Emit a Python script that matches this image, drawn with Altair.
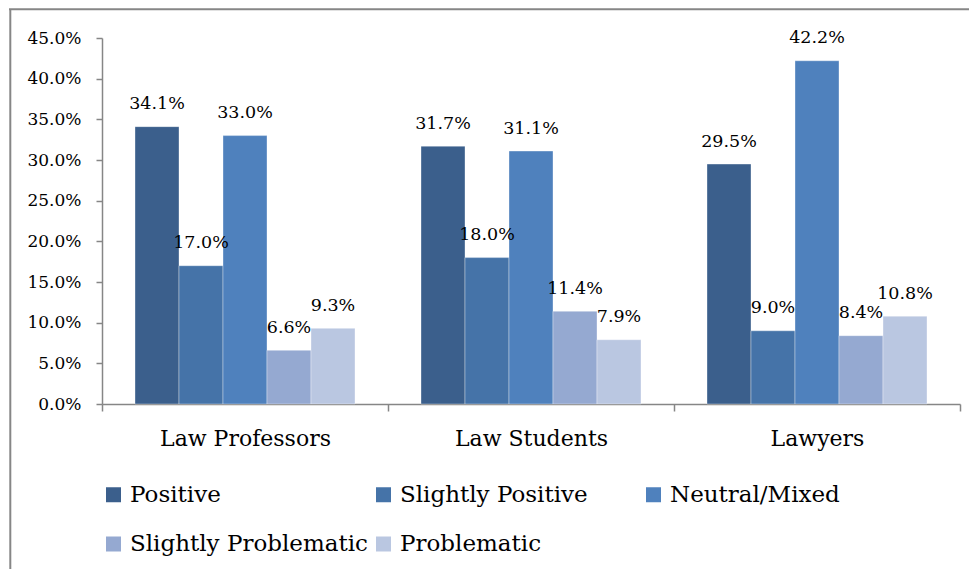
import altair as alt
import pandas as pd

# ---- data ----
groups = ["Law Professors", "Law Students", "Lawyers"]
series = ["Positive", "Slightly Positive", "Neutral/Mixed", "Slightly Problematic", "Problematic"]
colors = ["#3B5F8C", "#4573A8", "#4F81BD", "#95A9D1", "#BAC7E1"]
positive = [0.341, 0.317, 0.295]
slightly_positive = [0.170, 0.180, 0.090]
neutral_mixed = [0.330, 0.311, 0.422]
slightly_problematic = [0.066, 0.114, 0.084]
problematic = [0.093, 0.079, 0.108]
y_ticks = [0.0, 0.05, 0.10, 0.15, 0.20, 0.25, 0.30, 0.35, 0.40, 0.45]

rows = []
for s, vals in zip(series, [positive, slightly_positive, neutral_mixed,
                            slightly_problematic, problematic]):
    for g, v in zip(groups, vals):
        rows.append({"group": g, "series": s, "value": v})
df = pd.DataFrame(rows)

W, H = 858, 366
FONT = "DejaVu Serif"
GRAY = "#868686"

x = alt.X("group:N", sort=groups, title=None,
          scale=alt.Scale(paddingInner=0, paddingOuter=0),
          axis=alt.Axis(labelAngle=0, tickBand="extent", domainColor=GRAY,
                        tickColor=GRAY, tickSize=7, domainWidth=1.5, tickWidth=1.5,
                        labelFont=FONT, labelFontSize=22, labelColor="black",
                        labelPadding=17, labelLimit=400))
y = alt.Y("value:Q", title=None,
          scale=alt.Scale(domain=[0, 0.45], nice=False, zero=True),
          axis=alt.Axis(values=y_ticks, format=".1%", grid=False, domainColor=GRAY,
                        tickColor=GRAY, tickSize=6, domainWidth=1.5, tickWidth=1.5,
                        labelPadding=15, labelFont=FONT, labelFontSize=17,
                        labelColor="black"))
xo = alt.XOffset("series:N", sort=series,
                 scale=alt.Scale(paddingOuter=0.75, paddingInner=0))
color = alt.Color("series:N", sort=series,
                  scale=alt.Scale(domain=series, range=colors),
                  legend=alt.Legend(orient="none", legendX=0, legendY=445,
                                    direction="horizontal", columns=3,
                                    gridAlign="all", symbolType="square",
                                    symbolSize=225, symbolStrokeWidth=0,
                                    labelFont=FONT, labelFontSize=23,
                                    labelColor="black", labelOffset=5,
                                    labelLimit=400, columnPadding=4,
                                    rowPadding=25.5, title=None, padding=0))

bars = alt.Chart(df).mark_bar(stroke="white", strokeOpacity=0.35, strokeWidth=1).encode(
    x=x, y=y, xOffset=xo, color=color)

labels = alt.Chart(df).mark_text(font=FONT, fontSize=17.5, dy=-17.5,
                                 baseline="alphabetic", color="black").encode(
    x=x, y=y, xOffset=xo, text=alt.Text("value:Q", format=".1%"))

one = alt.Data(values=[{"k": 1}])
frame_left = alt.Chart(one).mark_rule(color=GRAY, strokeWidth=2).encode(
    x=alt.value(-91.7), y=alt.value(-28.7), y2=alt.value(H + 170))
frame_top = alt.Chart(one).mark_rule(color=GRAY, strokeWidth=2).encode(
    x=alt.value(-93), x2=alt.value(W + 10), y=alt.value(-28.7))

chart = alt.layer(bars, labels, frame_left, frame_top).properties(
    width=W, height=H,
    padding={"left": 94, "top": 30, "right": 9, "bottom": 165},
    autosize=alt.AutoSizeParams(type="none"),
).configure_view(stroke=None)

chart.save("out.html", embed_options={"renderer": "svg", "actions": False})
